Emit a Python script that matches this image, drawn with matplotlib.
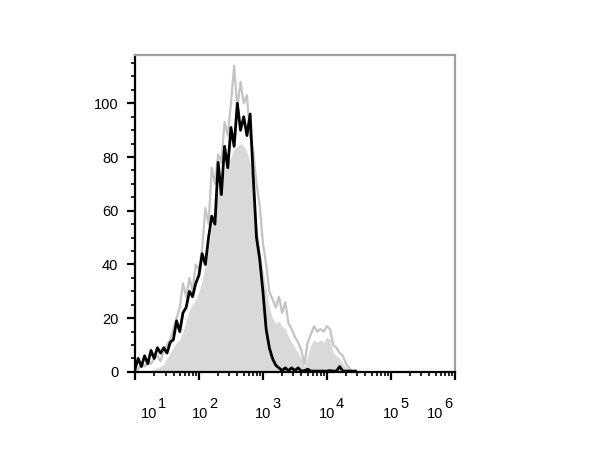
"""Flow cytometry style overlay histogram: stained sample vs. isotype control."""

import matplotlib
matplotlib.use("Agg")
import matplotlib.pyplot as plt
import numpy as np

plt.rcParams["font.family"] = ["Liberation Sans", "DejaVu Sans"]

# log10 position of the first bin and bin width (decades)
BIN_START = 1.0
BIN_STEP = 0.05

# gray control histogram: spiky outline and smoother filled body
gray_line = [0, 1, 3, 2, 4, 3, 5, 6, 4, 8,
             10, 12, 16, 20, 24, 33, 28, 35, 30, 40,
             38, 46, 61, 55, 76, 70, 81, 78, 93, 88,
             100, 114, 98, 108, 100, 103, 88, 82, 70, 62,
             48, 40, 30, 27, 24, 28, 22, 26, 18, 16,
             13, 11, 8, 3, 11, 14, 17, 15, 16, 15,
             17, 16, 10, 9, 7, 6, 3, 1.5, 0, 0]
gray_fill = [0, 0, 0, 0, 0, 0.5, 1, 1.5, 2, 3,
             5, 7, 9, 11, 12, 15, 19, 23, 25, 27,
             30, 34, 40, 46, 54, 62, 68, 72, 75, 78,
             80, 83, 84, 85, 84, 82, 78, 68, 55, 46,
             38, 31, 24, 20, 18, 19, 17, 16, 13, 11,
             9, 7, 5, 2, 6, 10, 12, 11, 12, 11,
             13, 12, 7, 6, 5, 3, 2, 1, 0, 0]
# black stained-sample histogram
black_line = [1, 5, 2, 6, 3, 8, 5, 9, 7, 9,
              7, 11, 12, 19, 15, 22, 24, 30, 28, 33,
              36, 44, 40, 50, 58, 55, 78, 66, 84, 76,
              91, 84, 100, 90, 95, 88, 96, 72, 50, 42,
              30, 16, 9, 5, 2.5, 1.5, 0.5, 1.5, 0.5, 1.5,
              0.5, 1.5, 0.3, 0.5, 1, 0.3, 0.3, 0.3, 0.3, 0.3,
              0.3, 0.5, 0.3, 0.3, 2, 0.3, 0.3, 0.3, 0.3, 0.3]

x_decades = [1, 2, 3, 4, 5, 6]
y_major = [0, 20, 40, 60, 80, 100]
# horizontal nudge (points) of each decade label relative to its tick
label_shift = [10, 1, 0, 0, 0, -14]

fig = plt.figure(figsize=(6, 4.62), dpi=100)
ax = fig.add_axes([0.225, 0.195, 0.533, 0.686])

xs = 10 ** (BIN_START + BIN_STEP * np.arange(len(gray_line)))
ax.fill_between(xs, 0, gray_fill, color="#d9d9d9", linewidth=0, zorder=1)
ax.plot(xs, gray_line, color="#c4c4c4", linewidth=1.6, zorder=2)
ax.plot(xs, black_line, color="black", linewidth=2.0, zorder=3)

ax.set_xscale("log")
ax.set_xlim(10, 1e6)
ax.set_ylim(0, 118)

ax.set_yticks(y_major)
ax.set_yticks(np.arange(5, 118, 5), minor=True)
ax.tick_params(axis="y", which="major", length=6, width=1.6, labelsize=10.5, pad=6)
ax.tick_params(axis="y", which="minor", length=3, width=1.2)
ax.tick_params(axis="x", which="major", length=6, width=1.6, labelbottom=False)
ax.tick_params(axis="x", which="minor", length=3, width=1.2)
ax.set_xticks([10.0 ** d for d in x_decades])

for d, dx in zip(x_decades, label_shift):
    ax.annotate("10", xy=(10.0 ** d, 0), xycoords=("data", "axes fraction"),
                xytext=(dx, -33), textcoords="offset points",
                ha="center", va="baseline", fontsize=10.5)
    ax.annotate(str(d), xy=(10.0 ** d, 0), xycoords=("data", "axes fraction"),
                xytext=(dx + 9.5, -26), textcoords="offset points",
                ha="center", va="baseline", fontsize=10.5)

for side in ("left", "bottom"):
    ax.spines[side].set_color("black")
    ax.spines[side].set_linewidth(1.6)
for side in ("top", "right"):
    ax.spines[side].set_color("#a0a0a0")
    ax.spines[side].set_linewidth(1.6)

fig.savefig("out.png", dpi=100)
